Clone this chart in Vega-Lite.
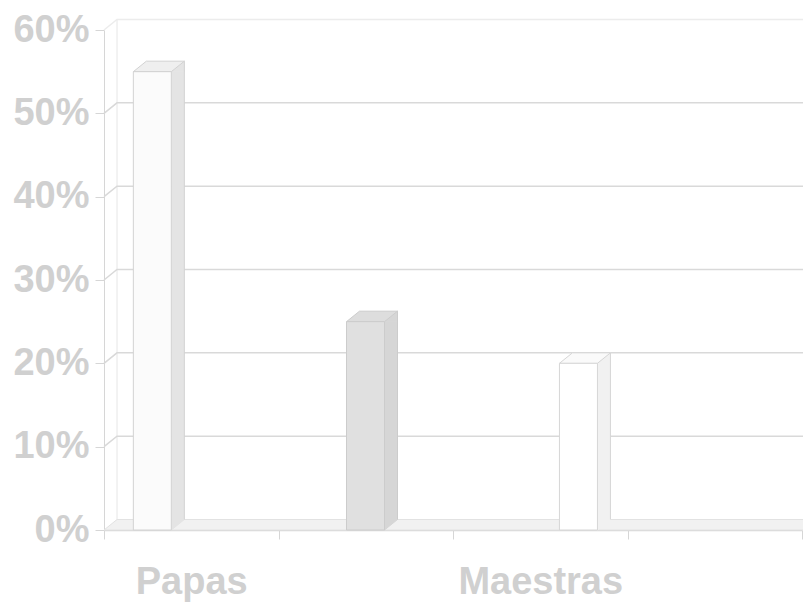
{
  "$schema": "https://vega.github.io/schema/vega-lite/v6.json",
  "width": 698,
  "height": 500,
  "autosize": {"type": "none"},
  "padding": {"left": 104, "top": 30, "right": 1, "bottom": 72},
  "background": "white",
  "config": {
    "view": {"stroke": null},
    "font": "Liberation Sans",
    "numberFormat": ".0%",
    "axis": {"labelFont": "Liberation Sans", "labelFontSize": 38, "labelFontWeight": "bold", "labelColor": "#d0d0d0", "tickSize": 9, "tickColor": "#d6d6d6", "domainColor": "#d6d6d6", "zindex": 1},
    "axisX": {"labelAngle": 0, "labelPadding": 24, "domainWidth": 1.5, "tickBand": "extent", "grid": false},
    "axisY": {"grid": false, "labelPadding": 6, "tickCount": 6}
  },
  "datasets": {
    "barras": [
      {"categoria": "Papas", "serie": "Serie 1", "valor": 0.55},
      {"categoria": " ", "serie": "Serie 2", "valor": 0.25},
      {"categoria": "Maestras", "serie": "Serie 3", "valor": 0.20}
    ],
    "niveles": [
      {"nivel": 0}, {"nivel": 0.1}, {"nivel": 0.2}, {"nivel": 0.3},
      {"nivel": 0.4}, {"nivel": 0.5}, {"nivel": 0.6}
    ]
  },
  "layer": [
    {
      "data": {"name": "niveles"},
      "transform": [{"filter": "datum.nivel == 0"}],
      "mark": {"type": "point", "shape": "M0,0L13,-10.5H720V0Z", "size": 4, "filled": true, "fill": "#f1f1f1", "stroke": "#e2e2e2", "strokeWidth": 1, "opacity": 1},
      "encoding": {
        "x": {"datum": "Papas", "bandPosition": 0, "title": null, "scale": {"domain": ["Papas", " ", "Maestras", "  "], "paddingInner": 0, "paddingOuter": 0}},
        "y": {"field": "nivel", "type": "quantitative", "title": null, "scale": {"domain": [0, 0.6], "nice": false, "zero": true}}
      }
    },
    {
      "data": {"name": "niveles"},
      "transform": [{"filter": "datum.nivel == 0"}],
      "mark": {"type": "rule", "xOffset": 13, "yOffset": -10.5, "y2Offset": -10.5, "color": "#e6e6e6", "strokeWidth": 1},
      "encoding": {
        "x": {"datum": "Papas", "bandPosition": 0, "title": null},
        "y": {"datum": 0, "type": "quantitative", "title": null},
        "y2": {"datum": 0.6}
      }
    },
    {
      "data": {"name": "niveles"},
      "transform": [{"filter": "datum.nivel > 0"}],
      "mark": {"type": "point", "shape": "M0,0L13,-10.5H720", "size": 4, "filled": false, "strokeWidth": 1.5, "opacity": 1},
      "encoding": {
        "x": {"datum": "Papas", "bandPosition": 0, "title": null},
        "y": {"field": "nivel", "type": "quantitative", "title": null},
        "stroke": {"condition": {"test": "datum.nivel >= 0.6", "value": "#ececec"}, "value": "#d9d9d9"}
      }
    },
    {
      "data": {"name": "barras"},
      "transform": [{"filter": "datum.serie == 'Serie 1'"}],
      "layer": [
        {
          "mark": {"type": "bar", "width": 13, "xOffset": -13.4, "y2Offset": -10.5, "fill": "#e4e4e4", "strokeWidth": 0},
          "encoding": {"x": {"field": "categoria", "type": "nominal", "title": null}, "y": {"field": "valor", "type": "quantitative", "title": null}, "y2": {"datum": 0}}
        },
        {
          "mark": {"type": "point", "shape": "M19,0L32,-10.5L32,0Z", "size": 4, "filled": true, "fill": "#e4e4e4", "stroke": "#e4e4e4", "strokeWidth": 1, "opacity": 1, "xOffset": -38.9},
          "encoding": {"x": {"field": "categoria", "type": "nominal", "title": null}, "y": {"field": "valor", "type": "quantitative", "title": null}}
        },
        {
          "mark": {"type": "point", "shape": "M19,0L19,-10.5L32,-10.5Z", "size": 4, "filled": true, "fill": "#e4e4e4", "stroke": "#e4e4e4", "strokeWidth": 1, "opacity": 1, "xOffset": -38.9},
          "encoding": {"x": {"field": "categoria", "type": "nominal", "title": null}, "y": {"datum": 0, "type": "quantitative", "title": null}}
        },
        {
          "mark": {"type": "rule", "xOffset": -6.9, "yOffset": -10.5, "y2Offset": -10.5, "color": "#d2d2d2", "strokeWidth": 1},
          "encoding": {"x": {"field": "categoria", "type": "nominal", "title": null}, "y": {"field": "valor", "type": "quantitative", "title": null}, "y2": {"datum": 0}}
        },
        {
          "mark": {"type": "point", "shape": "M-19,0L19,0L32,-10.5L-6,-10.5Z", "size": 4, "filled": true, "fill": "#efefef", "stroke": "#d2d2d2", "strokeWidth": 1, "opacity": 1, "xOffset": -38.9},
          "encoding": {"x": {"field": "categoria", "type": "nominal", "title": null}, "y": {"field": "valor", "type": "quantitative", "title": null}}
        },
        {
          "mark": {"type": "bar", "width": 38, "xOffset": -38.9, "fill": "#fbfbfb", "stroke": "#d2d2d2", "strokeWidth": 1},
          "encoding": {"x": {"field": "categoria", "type": "nominal", "title": null}, "y": {"field": "valor", "type": "quantitative", "title": null}}
        }
      ]
    },
    {
      "data": {"name": "barras"},
      "transform": [{"filter": "datum.serie == 'Serie 2'"}],
      "layer": [
        {
          "mark": {"type": "bar", "width": 13, "xOffset": 25.25, "y2Offset": -10.5, "fill": "#d6d6d6", "strokeWidth": 0},
          "encoding": {"x": {"field": "categoria", "type": "nominal", "title": null}, "y": {"field": "valor", "type": "quantitative", "title": null}, "y2": {"datum": 0}}
        },
        {
          "mark": {"type": "point", "shape": "M19,0L32,-10.5L32,0Z", "size": 4, "filled": true, "fill": "#d6d6d6", "stroke": "#d6d6d6", "strokeWidth": 1, "opacity": 1, "xOffset": -0.25},
          "encoding": {"x": {"field": "categoria", "type": "nominal", "title": null}, "y": {"field": "valor", "type": "quantitative", "title": null}}
        },
        {
          "mark": {"type": "point", "shape": "M19,0L19,-10.5L32,-10.5Z", "size": 4, "filled": true, "fill": "#d6d6d6", "stroke": "#d6d6d6", "strokeWidth": 1, "opacity": 1, "xOffset": -0.25},
          "encoding": {"x": {"field": "categoria", "type": "nominal", "title": null}, "y": {"datum": 0, "type": "quantitative", "title": null}}
        },
        {
          "mark": {"type": "rule", "xOffset": 31.75, "yOffset": -10.5, "y2Offset": -10.5, "color": "#cccccc", "strokeWidth": 1},
          "encoding": {"x": {"field": "categoria", "type": "nominal", "title": null}, "y": {"field": "valor", "type": "quantitative", "title": null}, "y2": {"datum": 0}}
        },
        {
          "mark": {"type": "point", "shape": "M-19,0L19,0L32,-10.5L-6,-10.5Z", "size": 4, "filled": true, "fill": "#dddddd", "stroke": "#cccccc", "strokeWidth": 1, "opacity": 1, "xOffset": -0.25},
          "encoding": {"x": {"field": "categoria", "type": "nominal", "title": null}, "y": {"field": "valor", "type": "quantitative", "title": null}}
        },
        {
          "mark": {"type": "bar", "width": 38, "xOffset": -0.25, "fill": "#e0e0e0", "stroke": "#cccccc", "strokeWidth": 1},
          "encoding": {"x": {"field": "categoria", "type": "nominal", "title": null}, "y": {"field": "valor", "type": "quantitative", "title": null}}
        }
      ]
    },
    {
      "data": {"name": "barras"},
      "transform": [{"filter": "datum.serie == 'Serie 3'"}],
      "layer": [
        {
          "mark": {"type": "bar", "width": 13, "xOffset": 63.7, "y2Offset": -10.5, "fill": "#f1f1f1", "strokeWidth": 0},
          "encoding": {"x": {"field": "categoria", "type": "nominal", "title": null}, "y": {"field": "valor", "type": "quantitative", "title": null}, "y2": {"datum": 0}}
        },
        {
          "mark": {"type": "point", "shape": "M19,0L32,-10.5L32,0Z", "size": 4, "filled": true, "fill": "#f1f1f1", "stroke": "#f1f1f1", "strokeWidth": 1, "opacity": 1, "xOffset": 38.2},
          "encoding": {"x": {"field": "categoria", "type": "nominal", "title": null}, "y": {"field": "valor", "type": "quantitative", "title": null}}
        },
        {
          "mark": {"type": "point", "shape": "M19,0L19,-10.5L32,-10.5Z", "size": 4, "filled": true, "fill": "#f1f1f1", "stroke": "#f1f1f1", "strokeWidth": 1, "opacity": 1, "xOffset": 38.2},
          "encoding": {"x": {"field": "categoria", "type": "nominal", "title": null}, "y": {"datum": 0, "type": "quantitative", "title": null}}
        },
        {
          "mark": {"type": "rule", "xOffset": 70.2, "yOffset": -10.5, "y2Offset": -10.5, "color": "#d6d6d6", "strokeWidth": 1},
          "encoding": {"x": {"field": "categoria", "type": "nominal", "title": null}, "y": {"field": "valor", "type": "quantitative", "title": null}, "y2": {"datum": 0}}
        },
        {
          "mark": {"type": "point", "shape": "M-19,0L19,0L32,-10.5L-6,-10.5Z", "size": 4, "filled": true, "fill": "#fafafa", "stroke": "#d6d6d6", "strokeWidth": 1, "opacity": 1, "xOffset": 38.2},
          "encoding": {"x": {"field": "categoria", "type": "nominal", "title": null}, "y": {"field": "valor", "type": "quantitative", "title": null}}
        },
        {
          "mark": {"type": "bar", "width": 38, "xOffset": 38.2, "fill": "#ffffff", "stroke": "#d6d6d6", "strokeWidth": 1},
          "encoding": {"x": {"field": "categoria", "type": "nominal", "title": null}, "y": {"field": "valor", "type": "quantitative", "title": null}}
        }
      ]
    }
  ]
}
